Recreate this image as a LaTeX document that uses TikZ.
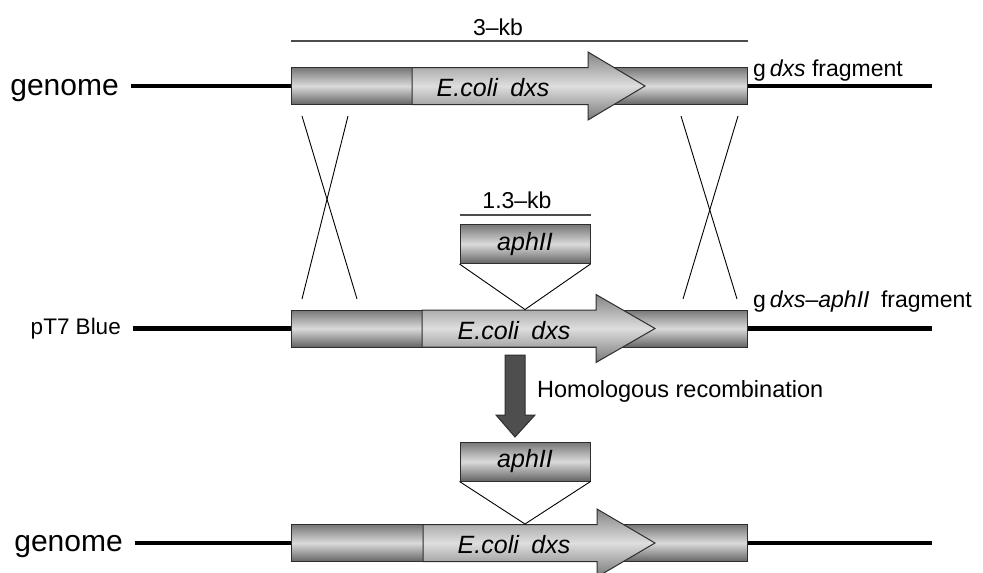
\documentclass[tikz,border=0pt]{standalone}
\usepackage{fontspec}
\setmainfont{Liberation Sans}
\usepackage{xcolor}
\usepackage{tikz}
\usetikzlibrary{positioning,calc}
\definecolor{SegDark}{HTML}{767676}
\definecolor{SegLight}{HTML}{DADADA}
\definecolor{GeneDark}{HTML}{858585}
\definecolor{GeneLight}{HTML}{DEDEDE}
\definecolor{Edge}{HTML}{2E2E2E}
\definecolor{Recomb}{HTML}{4E4E4E}
\newcommand{\fsz}[1]{\fontsize{#1}{#1}\selectfont}
\newcommand{\genearrow}[4]{\path[gene] (#2,#1-18.5) -- (#3,#1-18.5) -- (#3,#1-34) -- (#4,#1) -- (#3,#1+34) -- (#3,#1+18.5) -- (#2,#1+18.5) -- cycle;}

\begin{document}
\begin{tikzpicture}[x=1pt,y=-1pt,
  seg/.style={draw=Edge,line width=1pt,top color=SegDark,bottom color=SegDark!85!black,middle color=SegLight,minimum width=456pt,minimum height=37pt,inner sep=0pt},
  gene/.style={draw=Edge,line width=1pt,top color=GeneDark,bottom color=GeneDark!90!black,middle color=GeneLight},
  insert/.style={seg,minimum width=130pt,minimum height=39pt,font=\fsz{25}\itshape},
  genetxt/.style={font=\fsz{25}\itshape,inner sep=0pt},
  dna/.style={line width=4.5pt},
  span/.style={line width=2.5pt,draw=black!70},
  cross/.style={line width=0.9pt},
  sidelbl/.style={inner sep=2pt},
  lbl/.style={font=\fsz{23},inner sep=0pt}]
\clip (0,0) rectangle (983,573);
% top row: genome
\node[seg] (frag1) at (519,86) {};
\genearrow{86}{412}{588}{645}
\node[genetxt] (dxs1) at (493,88) {E.coli\enspace dxs};
\node[sidelbl,font=\fsz{30},anchor=base east] (genome1) at (121,95) {genome};
\coordinate (end1) at (932,86);
\draw[dna,shorten <=10pt] (genome1.east |- frag1.west) -- (frag1.west);
\draw[dna] (frag1.east) -- (end1);
\node[lbl,anchor=base west] (gdxs1) at (753,76) {g\,\textit{dxs} fragment};
\draw[span] (frag1.west |- 0,41) -- (frag1.east |- 0,41);
\node[lbl] (kb3) at (498,27) {3--kb};
% crossing over
\draw[cross] (302,116) -- (357,299);
\draw[cross] (348,116) -- (302,299);
\draw[cross] (681,116) -- (737,299);
\draw[cross] (738,116) -- (683,299);
% middle row: pT7 Blue
\node[seg] (frag2) at (519,328.5) {};
\genearrow{328.5}{422}{596}{655}
\node[genetxt] (dxs2) at (514,331) {E.coli\enspace dxs};
\node[sidelbl,font=\fsz{22.5},anchor=base east] (pt7) at (123,334) {pT7 Blue};
\coordinate (end2) at (932,328.5);
\draw[dna,shorten <=10pt] (pt7.east |- frag2.west) -- (frag2.west);
\draw[dna] (frag2.east) -- (end2);
\node[lbl,anchor=base west] (gdxs2) at (753,307) {g\,\textit{dxs}--\textit{aphII}\enspace fragment};
\node[insert] (aph2) at (525,244) {aphII};
\coordinate (ins2) at (aph2.south |- frag2.north);
\draw[cross] (aph2.south west) -- (ins2) -- (aph2.south east);
\draw[span] ($(aph2.north west)+(0,-9)$) -- ($(aph2.north east)+(0,-9)$);
\node[lbl] (kb13) at (517,200) {1.3--kb};
% recombination
\path[draw=Edge,fill=Recomb,line width=1pt] (505,355) -- (525,355) -- (525,415) -- (535,415) -- (515,437) -- (496,415) -- (505,415) -- cycle;
\node[lbl,font=\fsz{23.5},anchor=base west] (homrec) at (537,397) {Homologous recombination};
% bottom row: genome
\node[seg] (frag3) at (519,543) {};
\genearrow{543}{423}{597}{655}
\node[genetxt] (dxs3) at (514,545) {E.coli\enspace dxs};
\node[sidelbl,font=\fsz{30},anchor=base east] (genome3) at (125,551) {genome};
\coordinate (end3) at (932,543);
\draw[dna,shorten <=10pt] (genome3.east |- frag3.west) -- (frag3.west);
\draw[dna] (frag3.east) -- (end3);
\node[insert] (aph3) at (525,461.5) {aphII};
\coordinate (ins3) at (aph3.south |- frag3.north);
\draw[cross] (aph3.south west) -- (ins3) -- (aph3.south east);
\end{tikzpicture}
\end{document}
